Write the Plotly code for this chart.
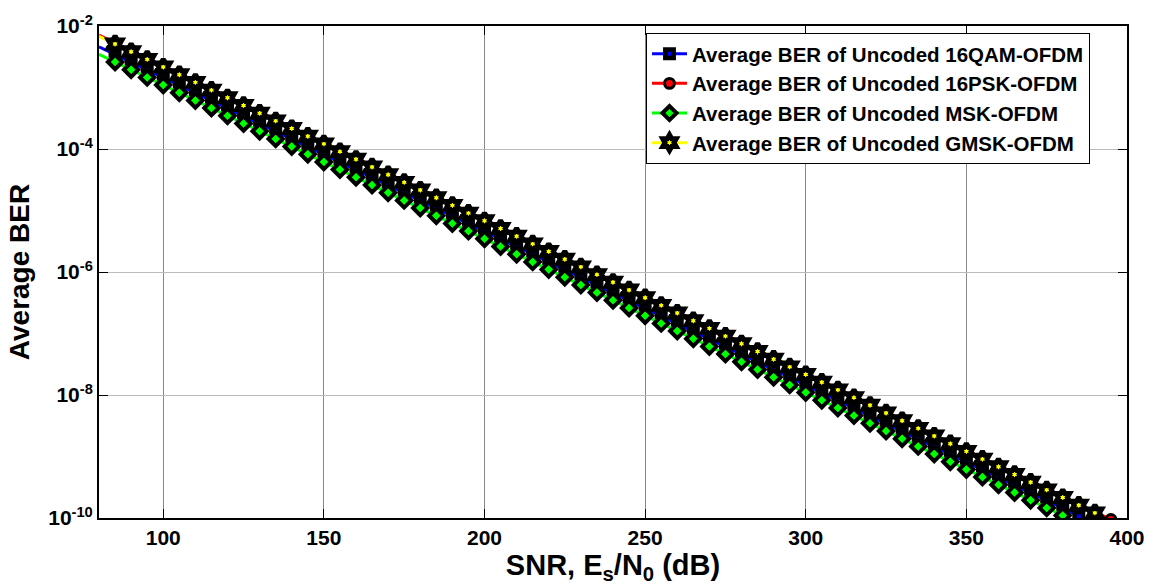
import plotly.graph_objects as go

snr = [80, 85, 90, 95, 100, 105, 110, 115, 120, 125, 130, 135, 140, 145, 150, 155,
       160, 165, 170, 175, 180, 185, 190, 195, 200, 205, 210, 215, 220, 225, 230, 235,
       240, 245, 250, 255, 260, 265, 270, 275, 280, 285, 290, 295, 300, 305, 310, 315,
       320, 325, 330, 335, 340, 345, 350, 355, 360, 365, 370, 375, 380, 385, 390, 395]

ber_16qam = [4.57e-3, 3.43e-3, 2.57e-3, 1.93e-3, 1.45e-3, 1.08e-3, 8.13e-4, 6.10e-4,
             4.57e-4, 3.43e-4, 2.57e-4, 1.93e-4, 1.45e-4, 1.08e-4, 8.13e-5, 6.10e-5,
             4.57e-5, 3.43e-5, 2.57e-5, 1.93e-5, 1.45e-5, 1.08e-5, 8.13e-6, 6.10e-6,
             4.57e-6, 3.43e-6, 2.57e-6, 1.93e-6, 1.45e-6, 1.08e-6, 8.13e-7, 6.10e-7,
             4.57e-7, 3.43e-7, 2.57e-7, 1.93e-7, 1.45e-7, 1.08e-7, 8.13e-8, 6.10e-8,
             4.57e-8, 3.43e-8, 2.57e-8, 1.93e-8, 1.45e-8, 1.08e-8, 8.13e-9, 6.10e-9,
             4.57e-9, 3.43e-9, 2.57e-9, 1.93e-9, 1.45e-9, 1.08e-9, 8.13e-10, 6.10e-10,
             4.57e-10, 3.43e-10, 2.57e-10, 1.93e-10, 1.45e-10, 1.08e-10]

ber_16psk = [7.08e-3, 5.31e-3, 3.98e-3, 2.99e-3, 2.24e-3, 1.68e-3, 1.26e-3, 9.44e-4,
             7.08e-4, 5.31e-4, 3.98e-4, 2.99e-4, 2.24e-4, 1.68e-4, 1.26e-4, 9.44e-5,
             7.08e-5, 5.31e-5, 3.98e-5, 2.99e-5, 2.24e-5, 1.68e-5, 1.26e-5, 9.44e-6,
             7.08e-6, 5.31e-6, 3.98e-6, 2.99e-6, 2.24e-6, 1.68e-6, 1.26e-6, 9.44e-7,
             7.08e-7, 5.31e-7, 3.98e-7, 2.99e-7, 2.24e-7, 1.68e-7, 1.26e-7, 9.44e-8,
             7.08e-8, 5.31e-8, 3.98e-8, 2.99e-8, 2.24e-8, 1.68e-8, 1.26e-8, 9.44e-9,
             7.08e-9, 5.31e-9, 3.98e-9, 2.99e-9, 2.24e-9, 1.68e-9, 1.26e-9, 9.44e-10,
             7.08e-10, 5.31e-10, 3.98e-10, 2.99e-10, 2.24e-10, 1.68e-10, 1.26e-10, 9.44e-11]

ber_msk = [3.47e-3, 2.60e-3, 1.95e-3, 1.46e-3, 1.10e-3, 8.23e-4, 6.17e-4, 4.63e-4,
           3.47e-4, 2.60e-4, 1.95e-4, 1.46e-4, 1.10e-4, 8.23e-5, 6.17e-5, 4.63e-5,
           3.47e-5, 2.60e-5, 1.95e-5, 1.46e-5, 1.10e-5, 8.23e-6, 6.17e-6, 4.63e-6,
           3.47e-6, 2.60e-6, 1.95e-6, 1.46e-6, 1.10e-6, 8.23e-7, 6.17e-7, 4.63e-7,
           3.47e-7, 2.60e-7, 1.95e-7, 1.46e-7, 1.10e-7, 8.23e-8, 6.17e-8, 4.63e-8,
           3.47e-8, 2.60e-8, 1.95e-8, 1.46e-8, 1.10e-8, 8.23e-9, 6.17e-9, 4.63e-9,
           3.47e-9, 2.60e-9, 1.95e-9, 1.46e-9, 1.10e-9, 8.23e-10, 6.17e-10, 4.63e-10,
           3.47e-10, 2.60e-10, 1.95e-10, 1.46e-10, 1.10e-10]

ber_gmsk = [6.80e-3, 5.10e-3, 3.82e-3, 2.87e-3, 2.15e-3, 1.61e-3, 1.21e-3, 9.07e-4,
            6.80e-4, 5.10e-4, 3.82e-4, 2.87e-4, 2.15e-4, 1.61e-4, 1.21e-4, 9.07e-5,
            6.80e-5, 5.10e-5, 3.82e-5, 2.87e-5, 2.15e-5, 1.61e-5, 1.21e-5, 9.07e-6,
            6.80e-6, 5.10e-6, 3.82e-6, 2.87e-6, 2.15e-6, 1.61e-6, 1.21e-6, 9.07e-7,
            6.80e-7, 5.10e-7, 3.82e-7, 2.87e-7, 2.15e-7, 1.61e-7, 1.21e-7, 9.07e-8,
            6.80e-8, 5.10e-8, 3.82e-8, 2.87e-8, 2.15e-8, 1.61e-8, 1.21e-8, 9.07e-9,
            6.80e-9, 5.10e-9, 3.82e-9, 2.87e-9, 2.15e-9, 1.61e-9, 1.21e-9, 9.07e-10,
            6.80e-10, 5.10e-10, 3.82e-10, 2.87e-10, 2.15e-10, 1.61e-10, 1.21e-10]

names = ["Average BER of Uncoded 16QAM-OFDM", "Average BER of Uncoded 16PSK-OFDM",
         "Average BER of Uncoded MSK-OFDM", "Average BER of Uncoded GMSK-OFDM"]

x_ticks = [100, 150, 200, 250, 300, 350, 400]
y_ticks = [1e-10, 1e-8, 1e-6, 1e-4, 1e-2]
y_tick_text = ["10<sup>-10</sup>", "10<sup>-8</sup>", "10<sup>-6</sup>", "10<sup>-4</sup>", "10<sup>-2</sup>"]

FONT = "Liberation Sans, Arial, sans-serif"

styles = [
    (ber_16qam, "#0000ff", "square", 8.5, 4.5),
    (ber_16psk, "#ff0000", "circle", 10, 3),
    (ber_msk, "#00ff00", "diamond", 11, 4),
    (ber_gmsk, "#ffff00", "hexagram", 12, 5),
]

fig = go.Figure()
for i, (vals, col, sym, sz, lw) in enumerate(styles):
    xs = snr[:len(vals)]
    sizes = [0] + [sz] * (len(vals) - 1)
    fig.add_trace(go.Scatter(
        x=xs, y=vals, mode="lines+markers", name=names[i],
        legendgroup=f"g{i}",
        line=dict(color=col, width=3),
        marker=dict(symbol=sym, size=sizes, color=col, opacity=1,
                    line=dict(color="#000000", width=lw)),
    ))

fig.update_layout(
    width=1156, height=588,
    margin=dict(l=99, r=29, t=26, b=70),
    paper_bgcolor="white", plot_bgcolor="white",
    font=dict(family=FONT, color="black", size=20, weight="bold"),
    legend=dict(
        x=0.964, y=0.986, xanchor="right", yanchor="top",
        bgcolor="white", bordercolor="black", borderwidth=1,
        font=dict(family=FONT, size=20.5, color="black", weight="bold"),
        tracegroupgap=0, itemwidth=35,
    ),
    showlegend=True,
)

fig.update_xaxes(
    range=[80, 400], tickvals=x_ticks, ticktext=[str(v) for v in x_ticks],
    showgrid=True, gridcolor="#888888", gridwidth=1,
    showline=True, linecolor="black", linewidth=2, mirror="ticks",
    ticks="inside", ticklen=9, tickcolor="black", tickwidth=1,
    tickfont=dict(family=FONT, size=21, color="black", weight="bold"),
    title=dict(text="SNR, E<sub>s</sub>/N<sub>0</sub> (dB)",
               font=dict(family=FONT, size=29, color="black", weight="bold"), standoff=0),
    zeroline=False,
)
fig.update_yaxes(
    type="log", range=[-10, -2], tickvals=y_ticks, ticktext=y_tick_text,
    showgrid=True, gridcolor="#bbbbbb", gridwidth=1,
    showline=True, linecolor="black", linewidth=2, mirror="ticks",
    ticks="inside", ticklen=9, tickcolor="black", tickwidth=1,
    tickfont=dict(family=FONT, size=21, color="black", weight="bold"),
    title=dict(text="Average BER", font=dict(family=FONT, size=28, color="black", weight="bold"), standoff=10),
    zeroline=False,
)

fig.write_html("out.html")
